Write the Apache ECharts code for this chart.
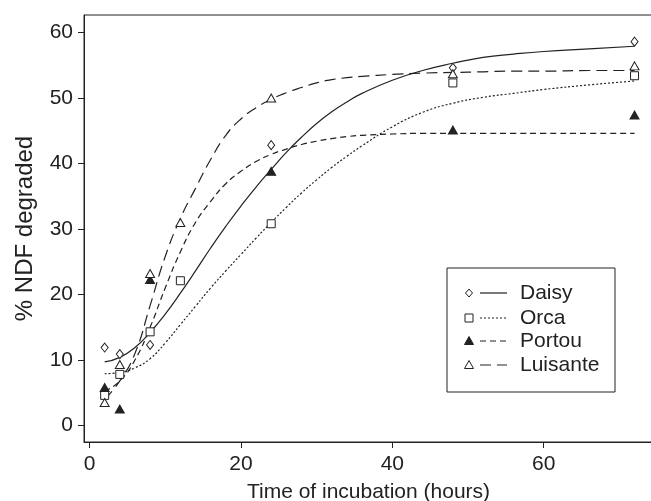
<!DOCTYPE html>
<html>
<head>
<meta charset="utf-8">
<script src="https://cdn.jsdelivr.net/npm/echarts@6/dist/echarts.min.js"></script>
<style>html,body{margin:0;padding:0;background:#fff}#c{width:651px;height:501px}</style>
</head>
<body>
<div id="c"></div>
<script>
// Observed points
const daisyHours = [2, 4, 8, 24, 48, 72];
const daisyValues = [11.9, 10.9, 12.3, 42.8, 54.6, 58.6];
const orcaHours = [2, 4, 8, 12, 24, 48, 72];
const orcaValues = [4.6, 7.8, 14.3, 22.1, 30.8, 52.3, 53.4];
const portouHours = [2, 4, 8, 24, 48, 72];
const portouValues = [5.8, 2.5, 22.3, 38.8, 45.1, 47.4];
const luisanteHours = [2, 4, 8, 12, 24, 48, 72];
const luisanteValues = [3.5, 9.3, 23.2, 31.0, 50.0, 53.7, 54.9];

// Fitted curves
const fitHours = [2,4,6,8,10,12,14,16,18,20,22,24,26,28,30,32,34,36,40,44,48,52,56,60,66,72];
const daisyFit = [9.7,10.4,11.9,14.2,17.0,20.2,23.6,27.1,30.4,33.5,36.4,39.1,41.7,44.0,46.1,47.9,49.4,50.7,52.7,54.2,55.3,56.2,56.7,57.1,57.5,57.9];
const orcaFit = [7.9,8.1,8.8,10.2,12.6,15.4,18.2,21.0,23.6,26.1,28.6,31.0,33.3,35.5,37.5,39.4,41.1,42.7,45.6,47.8,49.2,50.1,50.7,51.3,52.0,52.6];
const portouFit = [5.2,6.8,10.0,15.0,21.0,26.5,31.0,34.2,36.9,38.8,40.3,41.4,42.2,42.9,43.4,43.8,44.1,44.3,44.5,44.6,44.6,44.6,44.6,44.6,44.6,44.6];
const luisanteFit = [4.0,6.8,11.0,18.3,25.8,31.6,36.2,40.6,44.3,46.8,48.5,49.8,50.8,51.6,52.3,52.8,53.1,53.3,53.6,53.8,53.9,54.0,54.1,54.1,54.2,54.2];

const xTicks = [0, 20, 40, 60];
const yTicks = [0, 10, 20, 30, 40, 50, 60];
const legendNames = ['Daisy', 'Orca', 'Portou', 'Luisante'];

const pairs = (xs, ys) => xs.map((x, i) => [x, ys[i]]);
const INK = '#222';
const FONT = 'Liberation Sans, Arial, sans-serif';

const chart = echarts.init(document.getElementById('c'), null, {renderer: 'canvas'});

const lineStyles = [
  {type: 'solid'},
  {type: [2, 2]},
  {type: [6, 4]},
  {type: [11, 6]}
];
const symbols = [
  {symbol: 'diamond', size: [7, 9], fill: '#fff'},
  {symbol: 'rect', size: [8, 8], fill: '#fff'},
  {symbol: 'triangle', size: [9, 8], fill: INK},
  {symbol: 'triangle', size: [9, 8], fill: '#fff'}
];
const hoursList = [daisyHours, orcaHours, portouHours, luisanteHours];
const valuesList = [daisyValues, orcaValues, portouValues, luisanteValues];
const fitList = [daisyFit, orcaFit, portouFit, luisanteFit];

const series = [];
legendNames.forEach((name, i) => {
  series.push({
    type: 'line', name: name + ' fit', data: pairs(fitHours, fitList[i]),
    showSymbol: false, symbol: 'none', smooth: 0.5,
    lineStyle: Object.assign({color: INK, width: 1.2}, lineStyles[i]),
    silent: true, z: 2
  });
});
legendNames.forEach((name, i) => {
  series.push({
    type: 'scatter', name: name, data: pairs(hoursList[i], valuesList[i]),
    symbol: symbols[i].symbol, symbolSize: symbols[i].size,
    itemStyle: {color: symbols[i].fill, borderColor: INK, borderWidth: 1, opacity: 1},
    z: 3
  });
});

// legend drawn as graphic
const lg = [];
const boxL = 447, boxT = 268, boxR = 615, boxB = 392;
lg.push({type: 'rect', shape: {x: boxL, y: boxT, width: boxR - boxL, height: boxB - boxT},
  style: {fill: '#fff', stroke: INK, lineWidth: 1}, z: 10});
const rowY = [293, 318, 341, 365];
legendNames.forEach((name, i) => {
  const y = rowY[i];
  const s = symbols[i];
  if (s.symbol === 'diamond') {
    lg.push({type: 'polygon', shape: {points: [[469, y - 4], [472.5, y], [469, y + 4], [465.5, y]]},
      style: {fill: '#fff', stroke: INK, lineWidth: 1}, z: 11});
  } else if (s.symbol === 'rect') {
    lg.push({type: 'rect', shape: {x: 465, y: y - 4, width: 8, height: 8},
      style: {fill: '#fff', stroke: INK, lineWidth: 1}, z: 11});
  } else {
    lg.push({type: 'polygon', shape: {points: [[469, y - 4.5], [473.5, y + 3.5], [464.5, y + 3.5]]},
      style: {fill: s.fill, stroke: INK, lineWidth: 1}, z: 11});
  }
  lg.push({type: 'line', shape: {x1: 480, y1: y, x2: 507, y2: y},
    style: {stroke: INK, lineWidth: 1.2, lineDash: lineStyles[i].type === 'solid' ? null : lineStyles[i].type}, z: 11});
  lg.push({type: 'text', x: 520, y: y, style: {text: name, fill: INK, font: '21px ' + FONT,
    verticalAlign: 'middle'}, z: 11});
});

chart.setOption({
  animation: false,
  backgroundColor: '#fff',
  textStyle: {fontFamily: FONT},
  grid: {left: 84, top: 15, right: -2, bottom: 59, containLabel: false, outerBoundsMode: 'none',
    show: true, borderColor: INK, borderWidth: 1, backgroundColor: 'transparent'},
  xAxis: {
    type: 'value', min: -0.73, max: 74.44,
    name: 'Time of incubation (hours)', nameLocation: 'middle', nameGap: 40,
    nameTextStyle: {fontSize: 21, color: INK, fontFamily: FONT},
    axisLine: {show: true, onZero: false, lineStyle: {color: INK, width: 1}},
    axisTick: {show: true, length: 6, customValues: xTicks, lineStyle: {color: INK}},
    axisLabel: {customValues: xTicks, fontSize: 21, color: INK, margin: 12, fontFamily: FONT},
    splitLine: {show: false}
  },
  yAxis: {
    type: 'value', min: -2.52, max: 62.67,
    name: '% NDF degraded', nameLocation: 'middle', nameGap: 47, nameRotate: 90,
    nameTextStyle: {fontSize: 24, color: INK, fontFamily: FONT},
    axisLine: {show: true, onZero: false, lineStyle: {color: INK, width: 1}},
    axisTick: {show: true, length: 6, customValues: yTicks, lineStyle: {color: INK}},
    axisLabel: {customValues: yTicks, fontSize: 21, color: INK, margin: 11, fontFamily: FONT},
    splitLine: {show: false}
  },
  series: series,
  graphic: lg
});
</script>
</body>
</html>
